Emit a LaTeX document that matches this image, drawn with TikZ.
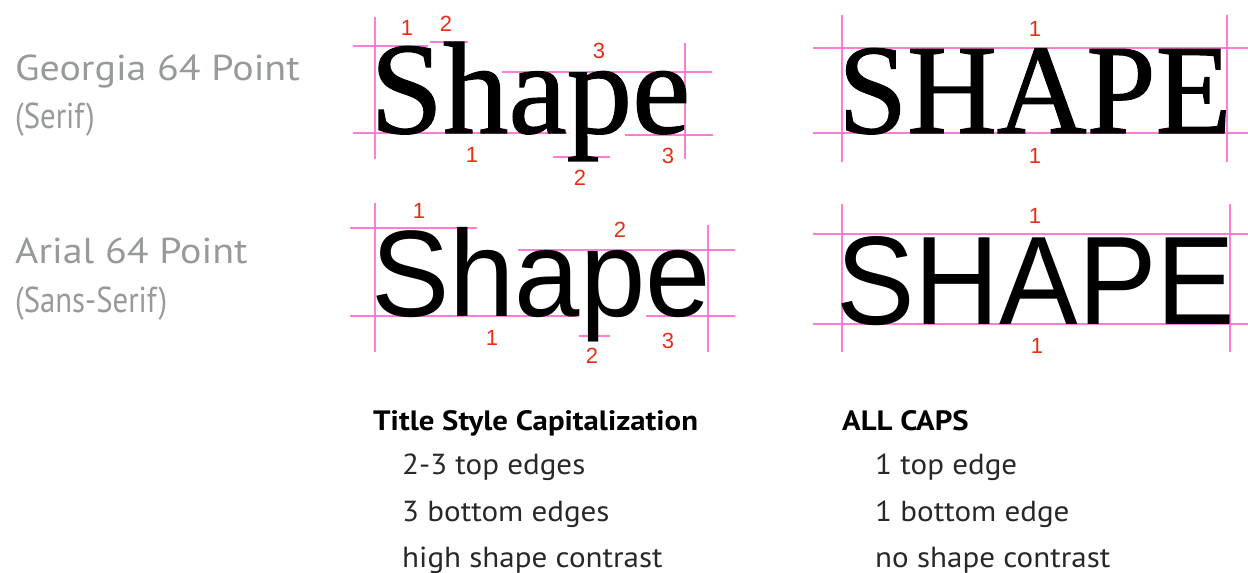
\documentclass[tikz,border=0pt]{standalone}
\usepackage{fontspec}
\setmainfont{Liberation Serif}
\newfontfamily\serifbig[FakeBold=1]{Liberation Serif}
\newfontfamily\sansbig{Liberation Sans}
\newfontfamily\myriad{PT Sans}
\definecolor{guide}{RGB}{255,125,215}
\definecolor{mark}{RGB}{235,45,20}
\definecolor{lbl}{RGB}{150,155,152}
\definecolor{txt}{RGB}{40,40,40}
\tikzset{
  guideline/.style={draw=guide, line width=1.3pt},
  num/.style={text=mark, inner sep=0, font=\sansbig\fontsize{22}{22}\selectfont},
  big/.style={inner sep=0, anchor=base west},
  side/.style={inner sep=0, anchor=base west, text=lbl, font=\myriad\fontsize{36}{36}\selectfont},
  sidewide/.style={side, xscale=1.11},
  sidecond/.style={side, xscale=0.855},
  head/.style={inner sep=0, anchor=base west, text=black, xscale=1.1, font=\myriad\bfseries\fontsize{28}{28}\selectfont},
  item/.style={inner sep=0, anchor=base west, text=txt, xscale=1.07, font=\myriad\fontsize{29}{29}\selectfont}
}
\begin{document}
\begin{tikzpicture}[x=1pt,y=-1pt]
\useasboundingbox (0,0) rectangle (1248,573);
% left labels
\node[sidewide] (g1) at (15,80) {Georgia 64 Point};
\node[sidecond] (g2) at (15,128) {(Serif)};
\node[sidewide] (a1) at (15,263) {Arial 64 Point};
\node[sidecond] (a2) at (15,312) {(Sans-Serif)};
% serif Shape guides
\draw[guideline] (375,17) -- (375,159);
\draw[guideline] (685,43) -- (685,159);
\draw[guideline] (353,46) -- (428,46);
\draw[guideline] (430,42) -- (468,42);
\draw[guideline] (502,72) -- (712,72);
\draw[guideline] (353,133) -- (567,133);
\draw[guideline] (553,157) -- (610,157);
\draw[guideline] (625,135) -- (713,135);
\node[big, font=\serifbig\fontsize{131}{131}\selectfont] (s1) at (370,133) {Shape};
\node[num] (s1n1) at (407,28) {1};
\node[num] (s1n2) at (446,24) {2};
\node[num] (s1n3) at (599,51) {3};
\node[num] (s1n4) at (472,155) {1};
\node[num] (s1n5) at (580,178) {2};
\node[num] (s1n6) at (668,156) {3};
% serif SHAPE guides
\draw[guideline] (842,15) -- (842,162);
\draw[guideline] (1227,15) -- (1227,162);
\draw[guideline] (813,48) -- (1248,48);
\draw[guideline] (813,133) -- (1248,133);
\node[big, font=\serifbig\fontsize{128}{128}\selectfont, xscale=0.97] (s2) at (838,133) {SHAPE};
\node[num] (s2n1) at (1035,29) {1};
\node[num] (s2n2) at (1035,156) {1};
% sans Shape guides
\draw[guideline] (375,203) -- (375,352);
\draw[guideline] (708,225) -- (708,352);
\draw[guideline] (350,228) -- (477,228);
\draw[guideline] (518,250) -- (735,250);
\draw[guideline] (350,316) -- (579,316);
\draw[guideline] (579,336) -- (610,336);
\draw[guideline] (646,316) -- (735,316);
\node[big, font=\sansbig\fontsize{123}{123}\selectfont, xscale=0.955] (s3) at (371,316) {Shape};
\node[num] (s3n1) at (419,211) {1};
\node[num] (s3n2) at (620,230) {2};
\node[num] (s3n3) at (492,338) {1};
\node[num] (s3n4) at (592,356) {2};
\node[num] (s3n5) at (668,341) {3};
% sans SHAPE guides
\draw[guideline] (842,204) -- (842,352);
\draw[guideline] (1230,204) -- (1230,352);
\draw[guideline] (813,234) -- (1248,234);
\draw[guideline] (813,324) -- (1248,324);
\node[big, font=\sansbig\fontsize{126}{126}\selectfont, xscale=0.935] (s4) at (836,324) {SHAPE};
\node[num] (s4n1) at (1035,216) {1};
\node[num] (s4n2) at (1037,346) {1};
% bottom text
\node[head] (h1) at (373,430) {Title Style Capitalization};
\node[item] (i1) at (402,474) {2-3 top edges};
\node[item] (i2) at (402,521) {3 bottom edges};
\node[item] (i3) at (402,567) {high shape contrast};
\node[head] (h2) at (842,430) {ALL CAPS};
\node[item] (j1) at (875,474) {1 top edge};
\node[item] (j2) at (875,521) {1 bottom edge};
\node[item] (j3) at (875,567) {no shape contrast};
\end{tikzpicture}
\end{document}
